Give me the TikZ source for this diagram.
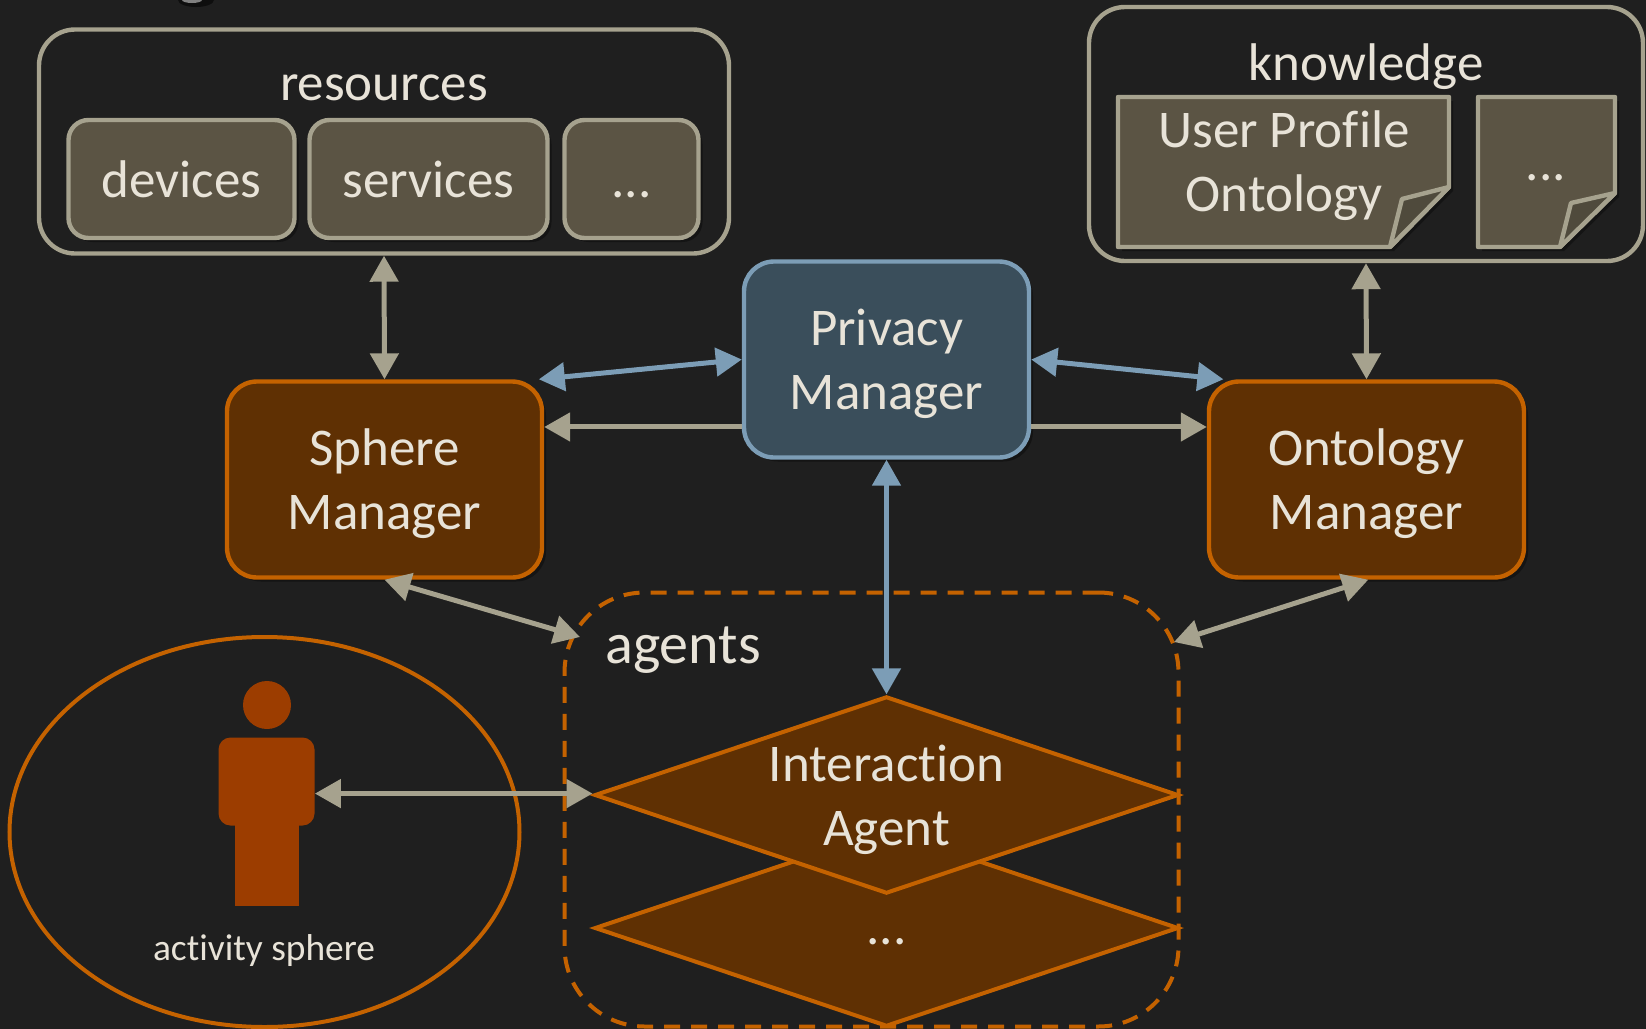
\documentclass[tikz,border=0pt]{standalone}
\usepackage{fontspec}
\setmainfont[Ligatures=NoCommon]{Carlito}
\usetikzlibrary{arrows.meta,shapes.geometric,shadows}
\definecolor{bgdark}{HTML}{1F1F1F}
\definecolor{linegray}{HTML}{A6A28E}
\definecolor{fillgray}{HTML}{5B5444}
\definecolor{foldgray}{HTML}{4F4A3C}
\definecolor{lineorange}{HTML}{C46200}
\definecolor{fillorange}{HTML}{5F3003}
\definecolor{personorange}{HTML}{9C3D00}
\definecolor{lineblue}{HTML}{7C9DB6}
\definecolor{fillblue}{HTML}{3A4E5B}
\definecolor{textlight}{HTML}{E8E3D8}
\newcommand{\topgap}{\rule{0pt}{22.5pt}}
\newcommand{\moredots}{\rule{0pt}{19pt}...}
\tikzset{
  softshadow/.style={drop shadow={shadow xshift=2pt,shadow yshift=-2pt,fill=black,opacity=.35}},
  groupbox/.style={draw=linegray,line width=2.2pt,rounded corners=18pt,minimum width=#1},
  itembox/.style={draw=linegray,fill=fillgray,line width=2.2pt,rounded corners=10pt,minimum height=59pt,softshadow,minimum width=#1},
  managerbox/.style={draw=lineorange,fill=fillorange,line width=2.2pt,rounded corners=15pt,minimum width=157.5pt,minimum height=98pt,align=center,softshadow},
  privacybox/.style={draw=lineblue,fill=fillblue,line width=2.2pt,rounded corners=15pt,minimum width=142.5pt,minimum height=98pt,align=center,softshadow},
  agentbox/.style={diamond,draw=lineorange,fill=fillorange,line width=2pt,aspect=3,inner sep=0pt,minimum width=292pt,minimum height=98.6pt},
  docpath/.style={draw=linegray,fill=fillgray,line width=2.2pt,line join=round},
  foldpath/.style={draw=linegray,fill=foldgray,line width=2.2pt,line join=round},
  graylink/.style={draw=linegray,line width=2.5pt,{Triangle[length=13pt,width=14pt]}-{Triangle[length=13pt,width=14pt]},color=linegray},
  bluelink/.style={draw=lineblue,line width=2.5pt,{Triangle[length=13pt,width=14pt]}-{Triangle[length=13pt,width=14pt]},color=lineblue},
  singlelink/.style={draw=linegray,line width=2.5pt,-{Triangle[length=13pt,width=14pt]},color=linegray},
}
\begin{document}
\begin{tikzpicture}[x=0.5pt,y=-0.5pt,every node/.style={text=textlight,font=\fontsize{26.5}{32}\selectfont}]
\fill[bgdark] (0,0) rectangle (1646,1029);
\useasboundingbox (0,0) rectangle (1646,1029);
\fill[black!55!bgdark] (196,0) ellipse (18 and 7);
\fill[gray] (192,0) ellipse (10 and 3);

% resources
\node[groupbox=345pt,minimum height=112pt] (Resources) at (384,141.5) {};
\node (ResourcesTitle) at (384,88) {resources};
\node[itembox=113pt] (Devices) at (181.5,179) {devices};
\node[itembox=119pt] (Services) at (428.5,179) {services};
\node[itembox=67pt] (MoreRes) at (631.5,179) {\moredots};

% knowledge
\node[groupbox=277pt,minimum height=127pt] (Knowledge) at (1366,134) {};
\node (KnowledgeTitle) at (1366,67) {knowledge};
\draw[docpath,softshadow] (1118,97) -- (1449,97) -- (1449,187) -- (1390,247) -- (1118,247) -- cycle;
\draw[foldpath] (1449,187) -- (1402,199) -- (1390,247) -- cycle;
\node[align=center] (UserProfile) at (1284,166) {User Profile\\Ontology};
\draw[docpath,softshadow] (1478,97) -- (1615,97) -- (1615,193) -- (1560,247) -- (1478,247) -- cycle;
\draw[foldpath] (1615,193) -- (1571,203) -- (1560,247) -- cycle;
\node (MoreDocs) at (1546,162) {\moredots};

% managers
\node[privacybox] (Privacy) at (886.5,359.5) {\topgap Privacy\\Manager};
\node[managerbox] (Sphere) at (384.5,479.5) {\topgap Sphere\\Manager};
\node[managerbox] (Ontology) at (1366.5,479.5) {\topgap Ontology\\Manager};

% agents
\node[draw=lineorange,line width=2pt,dash pattern=on 8pt off 5.5pt,rounded corners=40pt,minimum width=307pt,minimum height=217pt] (Agents) at (871.5,809.5) {};
\node[font=\fontsize{29}{34}\selectfont] (AgentsTitle) at (683,650) {agents};
\node[agentbox] (OtherAgent) at (886.5,928) {};
\node (OtherDots) at (886.5,926) {\moredots};
\node[agentbox] (Interaction) at (886.5,795) {};
\node[align=center] (InteractionText) at (886.5,800) {Interaction\\Agent};
\coordinate (AgentsLeft) at (580,637);
\coordinate (AgentsRight) at (1174,642);

% activity sphere
\node[ellipse,draw=lineorange,line width=2pt,minimum width=255pt,minimum height=195pt] (Activity) at (264.5,832) {};
\node[circle,fill=personorange,minimum size=24pt,inner sep=0pt] (Head) at (267,705) {};
\node[fill=personorange,rounded corners=6pt,minimum width=48pt,minimum height=44pt] (Body) at (266.5,781.5) {};
\node[fill=personorange,minimum width=32pt,minimum height=42pt] (Legs) at (266.5,864) {};
\node[font=\fontsize{18.7}{22}\selectfont] (ActivityLabel) at (264,951) {activity sphere};

% links
\draw[graylink] (Resources.south) -- (Sphere.north);
\draw[graylink] (Knowledge.south) -- (Ontology.north);
\draw[bluelink] (Sphere.33.6) -- (Privacy.west);
\draw[bluelink] (Privacy.east) -- (Ontology.145);
\draw[singlelink] (Privacy.205) -- (Privacy.205 -| Sphere.east);
\draw[singlelink] (Privacy.-25) -- (Privacy.-25 -| Ontology.west);
\draw[bluelink] (Privacy.south) -- (Interaction.north);
\draw[graylink] (Sphere.south) -- (AgentsLeft);
\draw[graylink] (Ontology.-89) -- (AgentsRight);
\draw[graylink] (Body.-14) -- (Body.-14 -| Interaction.west);
\end{tikzpicture}
\end{document}
